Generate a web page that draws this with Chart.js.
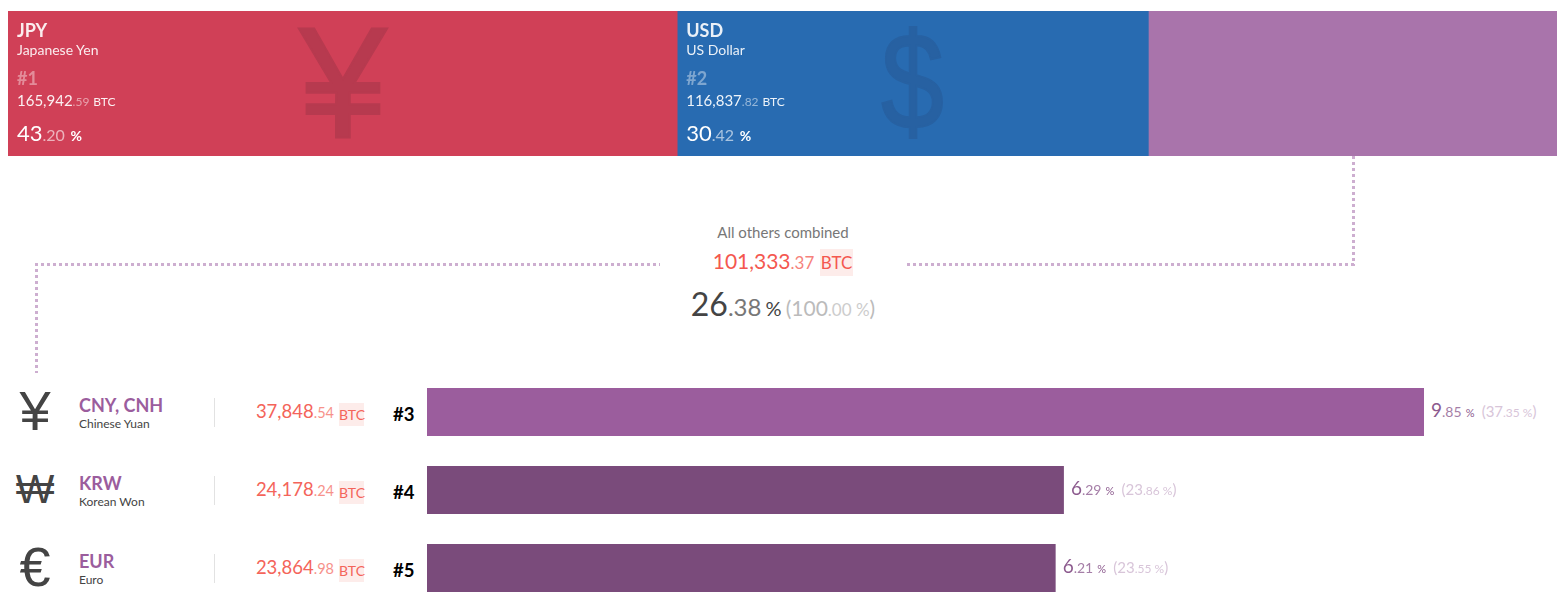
<!DOCTYPE html>
<html>
<head>
<meta charset="utf-8">
<script src="https://cdn.jsdelivr.net/npm/chart.js@4/dist/chart.umd.min.js"></script>
<style>
html, body { margin: 0; padding: 0; background: #fff; overflow: hidden; }
body { width: 1567px; height: 606px; position: relative; font-family: Lato, "Noto Sans", sans-serif; }
canvas { position: absolute; display: block; }
.t { position: absolute; white-space: nowrap; line-height: 1; }
.dot { position: absolute; }
.dot.h { height: 3px; background: repeating-linear-gradient(90deg, #cdaed0 0 3px, transparent 3px 6px); }
.dot.v { width: 3px; background: repeating-linear-gradient(180deg, #cdaed0 0 3px, transparent 3px 6px); }
.badge { background: #fdecea; }
</style>
</head>
<body>
<canvas id="topChart" width="1549" height="145" style="left:8px;top:11px"></canvas>
<canvas id="rankChart" width="997" height="234" style="left:427px;top:373px"></canvas>
<div id="labels"></div>
<script>
const topCodes = ['JPY', 'USD', 'Others'];
const topNames = ['Japanese Yen', 'US Dollar', 'All others combined'];
const topValues = [165942.59, 116837.82, 101333.37];
const topShares = [43.20, 30.42, 26.38];
const topColors = ['#d04057', '#286bb1', '#a974ab'];
const topSymbols = ['¥', '$'];

const rankCodes = ['CNY, CNH', 'KRW', 'EUR'];
const rankNames = ['Chinese Yuan', 'Korean Won', 'Euro'];
const rankValues = [37848.54, 24178.24, 23864.98];
const rankShares = [9.85, 6.29, 6.21];
const rankOfOthers = [37.35, 23.86, 23.55];
const rankSymbols = ['¥', '₩', '€'];
const rankNumbers = [3, 4, 5];
const rankColors = ['#9b5d9d', '#7a4b7b', '#7a4b7b'];

const labels = document.getElementById('labels');

function put(x, y, html, style) {
    const d = document.createElement('div');
    d.className = 't';
    d.style.left = x + 'px';
    d.style.top = y + 'px';
    if (style) d.style.cssText += style;
    d.innerHTML = html;
    labels.appendChild(d);
    return d;
}

// whole part and decimals are set in different sizes everywhere
function parts(v) {
    const s = v.toLocaleString('en-US', { minimumFractionDigits: 2, maximumFractionDigits: 2 });
    return s.split('.');
}

function bareAxes(max) {
    return {
        x: { stacked: true, display: false, min: 0, max: max },
        y: { stacked: true, display: false }
    };
}

const topTotal = topValues.reduce((a, b) => a + b, 0);
const topChart = new Chart(document.getElementById('topChart'), {
    type: 'bar',
    data: {
        labels: ['BTC volume'],
        datasets: topCodes.map((code, i) => ({
            label: code,
            data: [topValues[i]],
            backgroundColor: topColors[i],
            barPercentage: 1,
            categoryPercentage: 1
        }))
    },
    options: {
        indexAxis: 'y',
        responsive: false,
        animation: false,
        layout: { padding: 0 },
        plugins: { legend: { display: false }, tooltip: { enabled: false } },
        scales: bareAxes(topTotal)
    }
});

const rankChart = new Chart(document.getElementById('rankChart'), {
    type: 'bar',
    data: {
        labels: rankCodes,
        datasets: [{
            data: rankValues,
            backgroundColor: rankColors,
            barPercentage: 48 / 78,
            categoryPercentage: 1
        }]
    },
    options: {
        indexAxis: 'y',
        responsive: false,
        animation: false,
        layout: { padding: 0 },
        plugins: { legend: { display: false }, tooltip: { enabled: false } },
        scales: bareAxes(Math.max(...rankValues))
    }
});

// top boxes, text hangs off the left edge of each segment
[0, 1].forEach(i => {
    const left = 8 + topChart.scales.x.getPixelForValue(i === 0 ? 0 : topValues[0]);
    const x = left + 9;
    const [whole, frac] = parts(topValues[i]);
    const [pw, pf] = topShares[i].toFixed(2).split('.');
    const faint = i === 0 ? '#b73a4f' : '#2761a2';
    if (i === 0) {
        put(299, 3, topSymbols[i], `font-family:"Liberation Sans",sans-serif;font-size:158px;line-height:158px;color:${faint};-webkit-text-stroke:2px ${faint}`);
    } else {
        put(881, 12, topSymbols[i], `font-family:"Liberation Sans",sans-serif;font-size:138px;line-height:138px;color:${faint};transform:scaleX(.82);transform-origin:left top;-webkit-text-stroke:2px ${faint}`);
    }
    put(x, 21, topCodes[i], 'font-size:18px;font-weight:700;color:#fff;opacity:.9');
    put(x, 43, topNames[i], 'font-size:14px;color:#fff;opacity:.9');
    put(x, 69, '#' + (i + 1), 'font-size:18px;font-weight:700;color:rgba(255,255,255,.4)');
    put(x, 93, `${whole}<span style="font-size:12px;opacity:.55">.${frac}</span> <span style="font-size:12px">BTC</span>`, 'font-size:15px;color:#fff;opacity:.92');
    put(x, 122, `${pw}<span style="font-size:16px;opacity:.6">.${pf}</span> <span style="font-size:14px;font-weight:700">%</span>`, 'font-size:22px;color:#fff');
});

// centre block for the combined remainder
{
    const [whole, frac] = parts(topValues[2]);
    const [pw, pf] = topShares[2].toFixed(2).split('.');
    put(583, 225, topNames[2], 'width:400px;text-align:center;font-size:15px;color:#777');
    put(583, 249, `<span style="color:#f4574f">${whole}<span style="font-size:17px;opacity:.75">.${frac}</span></span> <span class="badge" style="display:inline-block;color:#f4574f;font-size:17px;line-height:27px;padding:0 1px">BTC</span>`, 'width:400px;text-align:center;font-size:21px;line-height:27px;margin-top:-2px');
    put(583, 287, `<span style="color:#444;font-size:32px">${pw}</span><span style="color:#777;font-size:24px">.${pf}</span> <span style="color:#444;font-size:20px">%</span> <span style="color:#bbb;font-size:21px">(100<span style="font-size:17px;opacity:.75">.00 %</span>)</span>`, 'width:400px;text-align:center;line-height:33px');
}

// connectors between the purple segment and the list
[[907, 263, 448, 'h'], [1352, 156, 110, 'v'], [35, 263, 625, 'h'], [35, 263, 110, 'v']].forEach(([x, y, len, dir]) => {
    const d = document.createElement('div');
    d.className = 'dot ' + dir;
    d.style.left = x + 'px';
    d.style.top = y + 'px';
    d.style[dir === 'h' ? 'width' : 'height'] = len + 'px';
    labels.appendChild(d);
});

// list rows
rankCodes.forEach((code, i) => {
    const cy = 373 + rankChart.scales.y.getPixelForValue(i);
    const [whole, frac] = parts(rankValues[i]);
    const [pw, pf] = rankShares[i].toFixed(2).split('.');
    const [ow, of] = rankOfOthers[i].toFixed(2).split('.');
    const iconSize = rankSymbols[i] === '₩' ? 41 : 56;
    put(0, cy - 31, rankSymbols[i], `width:70px;text-align:center;font-family:"Liberation Sans","DejaVu Sans",sans-serif;font-size:${iconSize}px;line-height:60px;color:#444`);
    put(79, cy - 16, code, 'font-size:18px;font-weight:700;color:#9b5d9d');
    put(79, cy + 6, rankNames[i], 'font-size:12px;color:#444');
    put(214, cy - 14, '', 'width:1px;height:29px;background:#e2e2e2');
    put(134, cy - 10, `${whole}<span style="font-size:14.5px;opacity:.7">.${frac}</span>`, 'width:200px;text-align:right;font-size:18.5px;color:#f4645a');
    put(339, cy - 9, 'BTC', 'width:25px;height:23px;line-height:23px;text-align:center;font-size:14px;color:#f4645a;background:#fdecea');
    put(393, cy - 7, '#' + rankNumbers[i], 'font-size:18.5px;font-weight:700;color:#000');
    const end = 427 + rankChart.scales.x.getPixelForValue(rankValues[i]);
    put(end + 7, cy - 12, `<span style="color:#8c5a8e;font-size:19px">${pw}</span><span style="color:#a57ea7;font-size:14px">.${pf}</span> <span style="color:#8c5a8e;font-size:11px">%</span> <span style="color:#d8c5d9;font-size:15px;margin-left:3px">(${ow}<span style="font-size:12px">.${of} %</span>)</span>`, 'line-height:19px');
});
</script>
</body>
</html>
